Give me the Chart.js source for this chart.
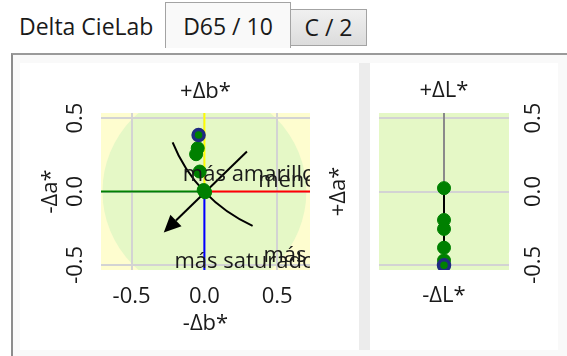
<!DOCTYPE html>
<html>
<head>
<meta charset="utf-8">
<script src="https://cdn.jsdelivr.net/npm/chart.js@4.4.1/dist/chart.umd.min.js"></script>
<style>
  body { margin: 0; width: 567px; height: 356px; position: relative; overflow: hidden; background: #fff; font-family: 'Open Sans', sans-serif; color: #1a1a1a; }
  .caption { position: absolute; left: 19px; top: 15px; font-size: 23px; line-height: 1; white-space: nowrap; }
  .tab { position: absolute; box-sizing: border-box; border: 1px solid #a3a3a3; font-size: 23px; line-height: 1; text-align: center; }
  .tab span { position: absolute; left: 0; right: 0; }
  .tab.on { left: 165px; top: 2px; width: 126px; height: 46px; background: #f9f9f9; border-bottom: none; }
  .tab.on span { top: 12px; }
  .tab.off { left: 290px; top: 9px; width: 77px; height: 37px; background: linear-gradient(#f0f0f0, #dcdcdc); }
  .tab.off span { top: 6px; }
  .frame { position: absolute; left: 11px; top: 53px; width: 556px; height: 303px; box-sizing: border-box; border-top: 2px solid #9a9a9a; border-left: 2px solid #8c8c8c; background: #f9f9f9; }
  .panel { position: absolute; top: 63px; height: 287px; background: #fff; }
  .strip { position: absolute; left: 359px; top: 63px; width: 11px; height: 287px; background: #ececec; }
  canvas { position: absolute; top: 63px; }
</style>
</head>
<body>
<div class="caption">Delta CieLab</div>
<div class="tab off"><span>C / 2</span></div>
<div class="tab on"><span>D65 / 10</span></div>
<div class="frame"></div>
<div class="panel" style="left:20px;width:339px"></div>
<div class="strip"></div>
<div class="panel" style="left:370px;width:188px"></div>
<canvas id="abChart" width="339" height="287" style="left:20px"></canvas>
<canvas id="lChart" width="188" height="287" style="left:370px"></canvas>
<script>
// measured differences, one entry per sample (last one is the selected sample)
const deltaB = [-0.005, 0.005, -0.032, -0.057, -0.046, -0.04];
const deltaA = [0.01, -0.005, 0.136, 0.254, 0.295, 0.385];
const deltaL = [0.023, -0.194, -0.255, -0.383, -0.47, -0.503];
const tickValues = [-0.5, 0, 0.5];
const bRange = [-0.71, 0.725];
const aRange = [-0.535, 0.535];
const lRange = [-0.535, 0.535];
const toleranceRadius = 0.7;

// hue arc and chroma arrow through the reference point
const hueArc = { cx: 0.76, cy: 0.73, r: 1.055, from: 202, to: 246 };
const chromaArrow = [[0.292, 0.272], [-0.279, -0.279]];
const abNotes = [
  { text: 'más amarillo', x: -0.148, y: 0.073 },
  { text: 'menos verde', x: 0.369, y: 0.034 },
  { text: 'más saturado', x: -0.206, y: -0.519 },
  { text: 'más', x: 0.405, y: -0.478 }
];

const FONT = "'Open Sans', sans-serif";
const INK = '#1a1a1a';
const GREEN = '#008000';
const NAVY = '#1f2a80';
const last = deltaL.length - 1;

Chart.defaults.font.family = FONT;
Chart.defaults.font.size = 22;
Chart.defaults.color = INK;

const pointStyle = {
  pointRadius: deltaL.map((v, i) => i === last ? 5.5 : 6.5),
  pointBackgroundColor: GREEN,
  pointBorderColor: deltaL.map((v, i) => i === last ? NAVY : GREEN),
  pointBorderWidth: deltaL.map((v, i) => i === last ? 3.5 : 1)
};

const fmt = v => Number(v).toFixed(1);
const setTicks = s => { s.ticks = tickValues.map(v => ({ value: v })); };
const grid = { color: '#d3d3d3', lineWidth: 2, drawTicks: false };
const noGrid = { display: false, drawTicks: false };
const noBorder = { display: false };

function titleOf(text, padding) {
  return { display: true, text: text, color: INK, padding: padding };
}

// yellow plot area with the tolerance circle on top
const abBackdrop = {
  id: 'abBackdrop',
  beforeDraw(chart) {
    const { ctx, chartArea: a, scales: { x, y } } = chart;
    ctx.save();
    ctx.fillStyle = '#fefdcf';
    ctx.fillRect(a.left, a.top, a.width, a.height);
    ctx.beginPath();
    ctx.rect(a.left, a.top, a.width, a.height);
    ctx.clip();
    const ox = x.getPixelForValue(0), oy = y.getPixelForValue(0);
    ctx.fillStyle = '#e5f8c6';
    ctx.beginPath();
    ctx.ellipse(ox, oy, x.getPixelForValue(toleranceRadius) - ox, oy - y.getPixelForValue(toleranceRadius), 0, 0, Math.PI * 2);
    ctx.fill();
    ctx.restore();
  },
  beforeDatasetsDraw(chart) {
    const { ctx, chartArea: a, scales: { x, y } } = chart;
    ctx.save();
    ctx.beginPath();
    ctx.rect(a.left, a.top, a.width, a.height);
    ctx.clip();
    ctx.strokeStyle = '#000';
    ctx.fillStyle = '#000';
    ctx.lineWidth = 2;
    // hue arc
    const cx = x.getPixelForValue(hueArc.cx), cy = y.getPixelForValue(hueArc.cy);
    const rx = x.getPixelForValue(hueArc.r) - x.getPixelForValue(0);
    const ry = y.getPixelForValue(0) - y.getPixelForValue(hueArc.r);
    ctx.beginPath();
    ctx.ellipse(cx, cy, rx, ry, 0, -hueArc.to * Math.PI / 180, -hueArc.from * Math.PI / 180);
    ctx.stroke();
    // chroma arrow
    const x0 = x.getPixelForValue(chromaArrow[0][0]), y0 = y.getPixelForValue(chromaArrow[0][1]);
    const x1 = x.getPixelForValue(chromaArrow[1][0]), y1 = y.getPixelForValue(chromaArrow[1][1]);
    const ang = Math.atan2(y1 - y0, x1 - x0);
    const len = 17, half = 8;
    const bx = x1 - Math.cos(ang) * len, by = y1 - Math.sin(ang) * len;
    ctx.beginPath();
    ctx.moveTo(x0, y0);
    ctx.lineTo(bx, by);
    ctx.stroke();
    ctx.beginPath();
    ctx.moveTo(x1, y1);
    ctx.lineTo(bx - Math.sin(ang) * half, by + Math.cos(ang) * half);
    ctx.lineTo(bx + Math.sin(ang) * half, by - Math.cos(ang) * half);
    ctx.closePath();
    ctx.fill();
    ctx.restore();
  },
  afterDatasetsDraw(chart) {
    const { ctx, chartArea: a, scales: { x, y } } = chart;
    ctx.save();
    ctx.beginPath();
    ctx.rect(a.left, a.top, a.width, a.height);
    ctx.clip();
    ctx.font = '22px ' + FONT;
    ctx.fillStyle = INK;
    ctx.textAlign = 'left';
    ctx.textBaseline = 'alphabetic';
    abNotes.forEach(n => ctx.fillText(n.text, x.getPixelForValue(n.x), y.getPixelForValue(n.y)));
    ctx.restore();
  },
  afterDraw(chart) {
    // "+Δa*" sits on the right side, reading upwards like the left title
    const { ctx, chartArea: a } = chart;
    ctx.save();
    ctx.translate(a.right + 29, (a.top + a.bottom) / 2);
    ctx.rotate(-Math.PI / 2);
    ctx.font = '22px ' + FONT;
    ctx.fillStyle = INK;
    ctx.textAlign = 'center';
    ctx.textBaseline = 'middle';
    ctx.fillText('+Δa*', 0, 0);
    ctx.restore();
  }
};

const lBackdrop = {
  id: 'lBackdrop',
  beforeDraw(chart) {
    const { ctx, chartArea: a } = chart;
    ctx.save();
    ctx.fillStyle = '#e5f8c6';
    ctx.fillRect(a.left, a.top, a.width, a.height);
    ctx.restore();
  }
};

function axisLine(color, from, to) {
  return {
    data: [from, to], showLine: true, borderColor: color, borderWidth: 2,
    pointRadius: 0, fill: false
  };
}

new Chart(document.getElementById('abChart'), {
  type: 'scatter',
  data: {
    datasets: [
      Object.assign({ data: deltaB.map((b, i) => ({ x: b, y: deltaA[i] })), showLine: false }, pointStyle),
      axisLine('#008000', { x: bRange[0], y: 0 }, { x: 0, y: 0 }),
      axisLine('#ff0000', { x: 0, y: 0 }, { x: bRange[1], y: 0 }),
      axisLine('#ffff00', { x: 0, y: 0 }, { x: 0, y: aRange[1] }),
      axisLine('#0000ff', { x: 0, y: 0 }, { x: 0, y: aRange[0] })
    ]
  },
  options: {
    responsive: false,
    animation: false,
    layout: { padding: 0 },
    plugins: { legend: { display: false }, tooltip: { enabled: false } },
    scales: {
      x: {
        type: 'linear', position: 'bottom', min: bRange[0], max: bRange[1],
        afterBuildTicks: setTicks, afterFit: s => { s.height = 80; },
        ticks: { callback: fmt, padding: 14, maxRotation: 0 },
        grid: grid, border: noBorder,
        title: titleOf('-Δb*', { top: 0, bottom: 12.8 })
      },
      x2: {
        type: 'linear', position: 'top', min: bRange[0], max: bRange[1],
        afterFit: s => { s.height = 50; },
        ticks: { display: false }, grid: noGrid, border: noBorder,
        title: titleOf('+Δb*', { top: 16, bottom: 0 })
      },
      y: {
        type: 'linear', position: 'left', min: aRange[0], max: aRange[1],
        afterBuildTicks: setTicks, afterFit: s => { s.width = 81; },
        ticks: { callback: fmt, padding: 6.4, minRotation: 90, maxRotation: 90, crossAlign: 'center' },
        grid: grid, border: noBorder,
        title: titleOf('-Δa*', { top: 17.4, bottom: 0 })
      },
      y2: {
        type: 'linear', position: 'right', min: aRange[0], max: aRange[1],
        afterFit: s => { s.width = 49; },
        ticks: { display: false }, grid: noGrid, border: noBorder
      }
    }
  },
  plugins: [abBackdrop]
});

new Chart(document.getElementById('lChart'), {
  type: 'scatter',
  data: {
    datasets: [
      Object.assign({
        data: deltaL.map(v => ({ x: 0, y: v })), showLine: true,
        borderColor: '#000', borderWidth: 2
      }, pointStyle),
      axisLine('#8a8a8a', { x: 0, y: lRange[0] }, { x: 0, y: lRange[1] })
    ]
  },
  options: {
    responsive: false,
    animation: false,
    layout: { padding: { left: 9 } },
    plugins: { legend: { display: false }, tooltip: { enabled: false } },
    scales: {
      x: {
        type: 'linear', position: 'bottom', min: -1, max: 1,
        afterFit: s => { s.height = 80; },
        ticks: { display: false }, grid: noGrid, border: noBorder,
        title: titleOf('-ΔL*', { top: 0, bottom: 41.2 })
      },
      x2: {
        type: 'linear', position: 'top', min: -1, max: 1,
        afterFit: s => { s.height = 50; },
        ticks: { display: false }, grid: noGrid, border: noBorder,
        title: titleOf('+ΔL*', { top: 14.4, bottom: 0 })
      },
      y: {
        type: 'linear', position: 'right', min: lRange[0], max: lRange[1],
        afterBuildTicks: setTicks, afterFit: s => { s.width = 49; },
        ticks: { callback: fmt, padding: 6, minRotation: 90, maxRotation: 90, crossAlign: 'center' },
        grid: grid, border: noBorder
      }
    }
  },
  plugins: [lBackdrop]
});
</script>
</body>
</html>
